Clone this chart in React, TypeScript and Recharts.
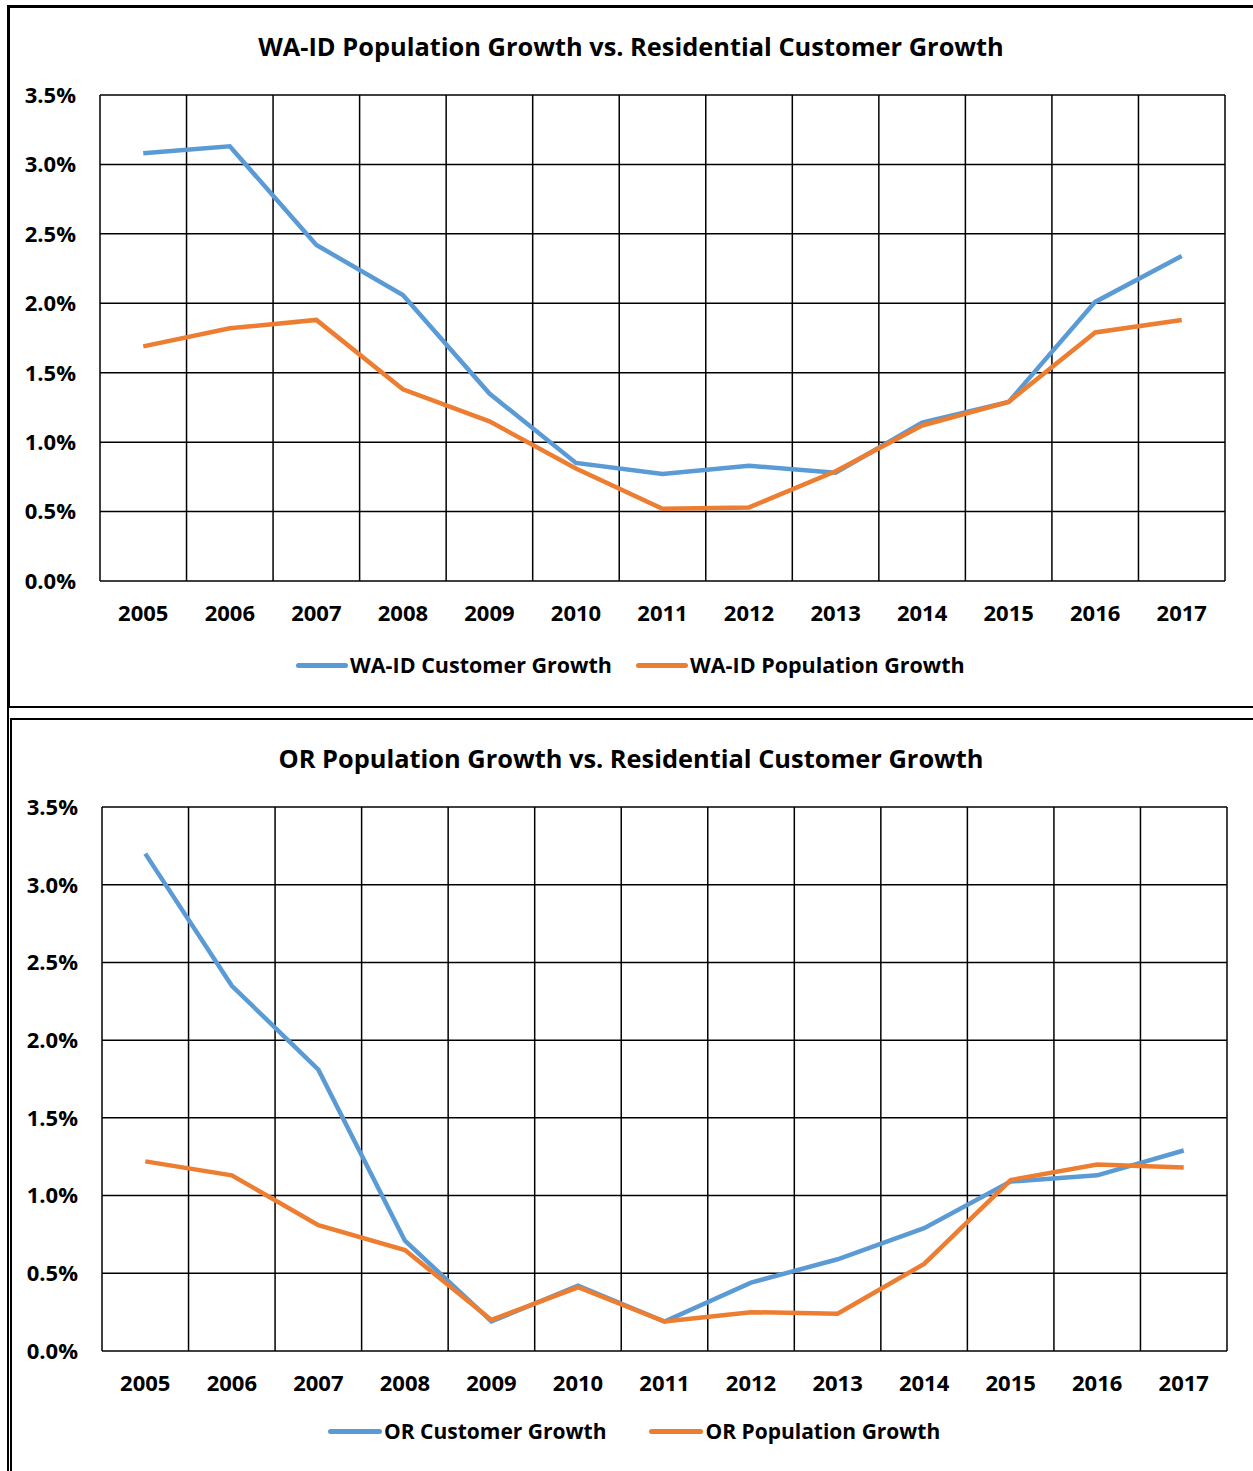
import { LineChart, Line, XAxis, YAxis, CartesianGrid, ReferenceLine } from 'recharts'

const years = ['2005', '2006', '2007', '2008', '2009', '2010', '2011', '2012', '2013', '2014', '2015', '2016', '2017']
const yTicks = [0, 0.5, 1, 1.5, 2, 2.5, 3, 3.5]

const waCustomer = [3.08, 3.13, 2.42, 2.06, 1.35, 0.85, 0.77, 0.83, 0.78, 1.14, 1.29, 2.01, 2.34]
const waPopulation = [1.69, 1.82, 1.88, 1.38, 1.15, 0.81, 0.52, 0.53, 0.79, 1.12, 1.29, 1.79, 1.88]

const orCustomer = [3.2, 2.35, 1.81, 0.71, 0.19, 0.42, 0.19, 0.44, 0.59, 0.79, 1.09, 1.13, 1.29]
const orPopulation = [1.22, 1.13, 0.81, 0.65, 0.2, 0.41, 0.19, 0.25, 0.24, 0.56, 1.1, 1.2, 1.18]

const BLUE = '#5B9BD5'
const ORANGE = '#ED7D31'
const FONT = '"Open Sans", Lato, sans-serif'

interface GrowthChartProps {
  top: number
  height: number
  title: string
  titleY: number
  customer: number[]
  population: number[]
  customerName: string
  populationName: string
  yAxisWidth: number
  marginRight: number
  legendY: number
  legendLeft: number
  legendGap: number
  legendLine: number
  legendFont: number
}

function GrowthChart(props: GrowthChartProps) {
  const data = years.map((y, i) => ({
    idx: i,
    year: y,
    customer: props.customer[i],
    population: props.population[i],
  }))
  const bounds = [...years.map((_, i) => i - 0.5), years.length - 0.5]
  const tickStyle = { fill: '#000', fontSize: 22, fontWeight: 700, fontFamily: FONT }

  return (
    <div style={{ position: 'absolute', left: 0, top: props.top, width: 1253 }}>
      <div
        style={{
          position: 'absolute',
          left: 0,
          width: 1262,
          top: props.titleY - props.top - 17,
          textAlign: 'center',
          fontFamily: FONT,
          fontWeight: 700,
          fontSize: 25.4,
          lineHeight: '34px',
          color: '#000',
        }}
      >
        {props.title}
      </div>
      <LineChart width={1253} height={props.height} data={data} margin={{ top: 95, right: props.marginRight, left: 0, bottom: 0 }}>
        <CartesianGrid vertical={false} stroke="#000" strokeWidth={1.5} />
        {bounds.map((b) => (
          <ReferenceLine key={b} x={b} stroke="#000" strokeWidth={1.5} />
        ))}
        <XAxis
          dataKey="idx"
          type="number"
          domain={[-0.5, years.length - 0.5]}
          ticks={years.map((_, i) => i)}
          tickFormatter={(v) => years[v]}
          height={59}
          axisLine={false}
          tickLine={false}
          tickMargin={18}
          tick={tickStyle}
          interval={0}
        />
        <YAxis
          domain={[0, 3.5]}
          ticks={yTicks}
          tickFormatter={(v) => `${Number(v).toFixed(1)}%`}
          width={props.yAxisWidth}
          axisLine={false}
          tickLine={false}
          tickSize={0}
          tickMargin={24}
          tick={tickStyle}
          interval={0}
        />
        <Line dataKey="customer" stroke={BLUE} strokeWidth={4.5} dot={false} isAnimationActive={false} />
        <Line dataKey="population" stroke={ORANGE} strokeWidth={4.5} dot={false} isAnimationActive={false} />
      </LineChart>
      <div
        style={{
          position: 'absolute',
          left: props.legendLeft,
          top: props.legendY - props.top - 15,
          display: 'flex',
          alignItems: 'center',
          gap: props.legendGap,
          fontFamily: FONT,
          fontWeight: 700,
          fontSize: props.legendFont,
          lineHeight: '30px',
          color: '#000',
          whiteSpace: 'nowrap',
        }}
      >
        {[
          { name: props.customerName, color: BLUE },
          { name: props.populationName, color: ORANGE },
        ].map((item) => (
          <div key={item.name} style={{ display: 'flex', alignItems: 'center' }}>
            <span style={{ display: 'inline-block', width: props.legendLine, height: 5, borderRadius: 3, background: item.color, marginRight: 2 }} />
            <span>{item.name}</span>
          </div>
        ))}
      </div>
    </div>
  )
}

export default function App() {
  return (
    <div style={{ position: 'absolute', left: 0, top: 0, width: 1253, height: 1471, background: '#fff', overflow: 'hidden' }}>
      {/* outer frame lines */}
      <div style={{ position: 'absolute', left: 7, top: 5, width: 1243, height: 698, borderTop: '3px solid #000', borderLeft: '3px solid #000', borderRight: '2px solid #000', borderBottom: '2px solid #000' }} />
      <div style={{ position: 'absolute', left: 7, top: 706, width: 2, height: 765, background: '#000' }} />
      <div style={{ position: 'absolute', left: 10, top: 718, width: 1243, height: 760, borderTop: '2px solid #000', borderLeft: '2px solid #000' }} />
      <GrowthChart
        top={0}
        height={640}
        title="WA-ID Population Growth vs. Residential Customer Growth"
        titleY={46}
        customer={waCustomer}
        population={waPopulation}
        customerName="WA-ID Customer Growth"
        populationName="WA-ID Population Growth"
        yAxisWidth={100}
        marginRight={28}
        legendY={665}
        legendLeft={296}
        legendGap={24}
        legendLine={52}
        legendFont={21.5}
      />
      <GrowthChart
        top={712}
        height={698}
        title="OR Population Growth vs. Residential Customer Growth"
        titleY={758}
        customer={orCustomer}
        population={orPopulation}
        customerName="OR Customer Growth"
        populationName="OR Population Growth"
        yAxisWidth={102}
        marginRight={26}
        legendY={1431}
        legendLeft={328}
        legendGap={43}
        legendLine={54}
        legendFont={21}
      />
    </div>
  )
}
